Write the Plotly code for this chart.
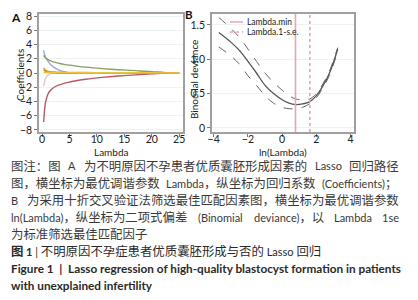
import re
import plotly.graph_objects as go

# ---------------- Panel A data: Lasso coefficient paths ----------------
lam = [0.3, 0.4, 0.55, 0.8, 1.2, 1.6, 2.2, 3, 4, 5, 6, 8, 11, 14, 17, 20, 22.5, 25]
coef_purple = [3.2, 2.8, 2.4, 1.95, 1.55, 1.15, 0.78, 0.45, 0.18, 0.02, 0, 0, 0, 0, 0, 0, 0, 0]
coef_green = [2.5, 2.35, 2.2, 2.05, 1.85, 1.7, 1.52, 1.38, 1.22, 1.1, 1.0, 0.82, 0.62, 0.46, 0.33, 0.2, 0.05, 0]
coef_red = [-6.9, -5.8, -4.6, -3.6, -2.8, -2.4, -2.0, -1.7, -1.45, -1.28, -1.12, -0.88, -0.62, -0.42, -0.26, -0.12, 0, 0]
coef_orange = [0.75, 0.6, 0.45, 0.32, 0.22, 0.17, 0.14, 0.12, 0.1, 0.09, 0.08, 0.07, 0.05, 0.04, 0.03, 0.02, 0.0, 0]
coef_yellow = [0.1, 0.08, 0.07, 0.06, 0.06, 0.05, 0.05, 0.05, 0.05, 0.05, 0.05, 0.04, 0.04, 0.04, 0.03, 0.03, 0.02, 0.01]
coef_brown = [0.45, 0.38, 0.3, 0.2, 0.1, 0.05, 0.02, 0, 0, 0, 0, 0, 0, 0, 0, 0, 0, 0]
coef_beige = [-1.9, -1.4, -0.95, -0.55, -0.25, -0.1, 0, 0, 0, 0, 0, 0, 0, 0, 0, 0, 0, 0]
paths = [
    (coef_beige, "#e6c9bd"),
    (coef_brown, "#b0803a"),
    (coef_purple, "#a3a3dc"),
    (coef_green, "#86a064"),
    (coef_red, "#b85a64"),
    (coef_orange, "#e39a2e"),
    (coef_yellow, "#ebc33c"),
]
xticks_a = [0, 5, 10, 15, 20, 25]
yticks_a = [-8, -6, -4, -2, 0, 2, 4, 6, 8]

# ---------------- Panel B data: cross-validation curve ----------------
ln_lam = [-3.7, -3.0, -2.5, -2.0, -1.5, -1.0, -0.5, 0.0, 0.4, 0.8, 1.2, 1.6, 2.0, 2.4, 2.8, 3.25]
dev_mean = [1.39, 1.25, 1.13, 0.97, 0.80, 0.62, 0.50, 0.41, 0.36, 0.34, 0.35, 0.38, 0.47, 0.62, 0.82, 1.15]
dev_upper = [1.61, 1.45, 1.32, 1.15, 0.97, 0.80, 0.66, 0.55, 0.47, 0.42, 0.41, 0.42, 0.50, 0.65, 0.85, 1.17]
dev_lower = [1.18, 1.05, 0.93, 0.76, 0.62, 0.47, 0.36, 0.30, 0.28, 0.28, 0.30, 0.35, 0.44, 0.59, 0.79, 1.12]
lambda_min = 0.78
lambda_1se = 1.62
xticks_b = [-4, -2, 0, 2, 4]
yticks_b = [0, 0.5, 1.0, 1.5]
yticklabels_b = ["0", "0.5", "1.0", "1.5"]
yrange_b = [-0.06, 1.66]
legend_labels = ["Lambda.min", "Lambda.1-s.e."]

# caption lines; justified lines are split at their spaces
caption = [
    "图注：图 A 为不明原因不孕患者优质囊胚形成因素的 Lasso 回归路径",
    "图，横坐标为最优调谐参数 Lambda，纵坐标为回归系数 (Coefficients)；",
    "B 为采用十折交叉验证法筛选最佳匹配因素图，横坐标为最优调谐参数",
    "ln(Lambda)，纵坐标为二项式偏差 (Binomial deviance)，以 Lambda 1se",
    "为标准筛选最佳匹配因子",
]
caption_justified = [True, True, True, True, False]
title_cn = "图 1 | 不明原因不孕症患者优质囊胚形成与否的 Lasso 回归"
title_en = ["Figure 1  |  Lasso regression of high-quality blastocyst formation in patients",
            "with unexplained infertility"]

W, H = 418, 300
OFF = 8  # page body margin of the viewer


def px(x):
    return (x - OFF) / W


def py(y):
    return 1 - (y - OFF) / H


FONT = "Lato, 'Noto Sans CJK SC', sans-serif"
CJK = "'Noto Sans CJK SC', Lato, sans-serif"
PINK = "#eaa2b4"
CJK_SIZE = 12.4
LAT_SIZE = 11.0
TEXT_L, TEXT_R = 8.7, 397.0

LATO_W = {"a": .51, "b": .57, "c": .47, "d": .57, "e": .53, "f": .33, "i": .25, "l": .25, "m": .85,
          "n": .57, "o": .57, "s": .43, "t": .36, "v": .51, "A": .67, "B": .64, "C": .67, "L": .48,
          "1": .58, "(": .30, ")": .30, " ": .20}


def seg_width(s):
    w = 0.0
    for ch in s:
        if ord(ch) > 127:
            w += CJK_SIZE
        else:
            w += LATO_W.get(ch, .55) * LAT_SIZE
    return w


def mixed(text):
    parts = []
    for run in re.findall(r"[\x00-\x7f]+|[^\x00-\x7f]+", text):
        if run.isascii():
            parts.append('<span style="font-family:Lato;font-size:%.1fpx">%s</span>' % (LAT_SIZE, run))
        else:
            parts.append(run)
    return "".join(parts)


fig = go.Figure()
for vals, col in paths:
    fig.add_trace(go.Scatter(x=lam, y=vals, mode="lines", line=dict(color=col, width=1.4, shape="spline"),
                             showlegend=False, xaxis="x", yaxis="y", hoverinfo="skip"))

fig.add_trace(go.Scatter(x=ln_lam, y=dev_upper, mode="lines",
                         line=dict(color="#666", width=1, dash="dash", shape="spline"),
                         showlegend=False, xaxis="x2", yaxis="y2"))
fig.add_trace(go.Scatter(x=ln_lam, y=dev_lower, mode="lines",
                         line=dict(color="#666", width=1, dash="dash", shape="spline"),
                         showlegend=False, xaxis="x2", yaxis="y2"))
fig.add_trace(go.Scatter(x=ln_lam, y=dev_mean, mode="lines", line=dict(color="#555", width=1.3, shape="spline"),
                         showlegend=False, xaxis="x2", yaxis="y2"))
fig.add_trace(go.Scatter(x=[lambda_min, lambda_min], y=yrange_b, mode="lines", name=legend_labels[0],
                         line=dict(color=PINK, width=1.6), xaxis="x2", yaxis="y2", showlegend=False))
fig.add_trace(go.Scatter(x=[lambda_1se, lambda_1se], y=yrange_b, mode="lines", name=legend_labels[1],
                         line=dict(color=PINK, width=1.6, dash="dot"), xaxis="x2", yaxis="y2", showlegend=False))

axis_common = dict(showline=True, mirror=True, linecolor="#a0a0a0", linewidth=1.5, automargin=False,
                   ticks="outside", ticklen=3, tickcolor="#777", zeroline=False,
                   tickfont=dict(family=FONT, size=10.5, color="#222"))

annotations = [
    dict(text="<b>A</b>", x=px(16), y=py(17), xref="paper", yref="paper", showarrow=False,
         xanchor="center", yanchor="middle", font=dict(family=FONT, size=12, color="#111")),
    dict(text="<b>B</b>", x=px(189), y=py(15), xref="paper", yref="paper", showarrow=False,
         xanchor="center", yanchor="middle", font=dict(family=FONT, size=11.5, color="#111")),
    dict(text="Coefficients", x=px(20), y=py(75), xref="paper", yref="paper", showarrow=False,
         xanchor="center", yanchor="middle", textangle=-90, font=dict(family=FONT, size=10, color="#222")),
    dict(text="Binomial deviance", x=px(194), y=py(80), xref="paper", yref="paper", showarrow=False,
         xanchor="center", yanchor="middle", textangle=-90, font=dict(family=FONT, size=10, color="#222")),
    dict(text="Lambda", x=px(111), y=py(152), xref="paper", yref="paper", showarrow=False,
         xanchor="center", yanchor="middle", font=dict(family=FONT, size=10, color="#222")),
    dict(text="ln(Lambda)", x=px(283), y=py(152), xref="paper", yref="paper", showarrow=False,
         xanchor="center", yanchor="middle", font=dict(family=FONT, size=10, color="#222")),
]
# legend keys (drawn manually to match the compact original legend)
shapes = []
for i, (lab, dash) in enumerate(zip(legend_labels, ["solid", "dot"])):
    yy = 22 + 10 * i
    shapes.append(dict(type="line", xref="paper", yref="paper", x0=px(230), x1=px(243), y0=py(yy), y1=py(yy),
                       line=dict(color=PINK, width=1.4, dash=dash)))
    annotations.append(dict(text=lab, x=px(245), y=py(yy), xref="paper", yref="paper", showarrow=False,
                            xanchor="left", yanchor="middle", font=dict(family=FONT, size=8.5, color="#222")))

ys = [166, 183, 200, 217, 234]
for t, just, yy in zip(caption, caption_justified, ys):
    segs = t.split(" ") if just else [t]
    widths = [seg_width(s) for s in segs]
    gap = (TEXT_R - TEXT_L - sum(widths)) / (len(segs) - 1) if len(segs) > 1 else 0
    xcur = TEXT_L
    for s, w in zip(segs, widths):
        annotations.append(dict(text=mixed(s), x=px(xcur), y=py(yy), xref="paper", yref="paper",
                                showarrow=False, xanchor="left", yanchor="middle",
                                font=dict(family=CJK, size=CJK_SIZE, color="#3a3a3a")))
        xcur += w + gap
annotations.append(dict(text="<b>" + mixed(title_cn[:3]) + "</b>" + mixed(title_cn[3:]),
                        x=px(TEXT_L), y=py(251), xref="paper", yref="paper", showarrow=False,
                        xanchor="left", yanchor="middle", font=dict(family=CJK, size=CJK_SIZE, color="#2a2a2a")))
for t, yy in zip(title_en, [268, 285]):
    annotations.append(dict(text="<b>" + t + "</b>", x=px(TEXT_L), y=py(yy), xref="paper", yref="paper",
                            showarrow=False, xanchor="left", yanchor="middle",
                            font=dict(family=FONT, size=11.75, color="#2a2a2a")))

fig.update_layout(
    template="none",
    width=W, height=H, margin=dict(l=0, r=0, t=0, b=0, autoexpand=False),
    paper_bgcolor="white", plot_bgcolor="white", showlegend=False,
    xaxis=dict(domain=[px(39), px(183)], range=[-0.55, 25.7], tickvals=xticks_a, showgrid=False,
               ticklabelstandoff=-6, **axis_common),
    yaxis=dict(domain=[py(132), py(14)], range=[-8.3, 8.3], tickvals=yticks_a,
               showgrid=True, gridcolor="#edf2f2", gridwidth=1, **axis_common),
    xaxis2=dict(domain=[px(212), px(354)], range=[-4.1, 4.2], tickvals=xticks_b, anchor="y2",
                showgrid=False, ticklabelstandoff=-6, **axis_common),
    yaxis2=dict(domain=[py(132), py(14)], range=yrange_b, tickvals=yticks_b, ticktext=yticklabels_b,
                anchor="x2", showgrid=True, gridcolor="#edf2f2", gridwidth=1, **axis_common),
    annotations=annotations,
    shapes=shapes,
)
fig.write_html("out.html")
